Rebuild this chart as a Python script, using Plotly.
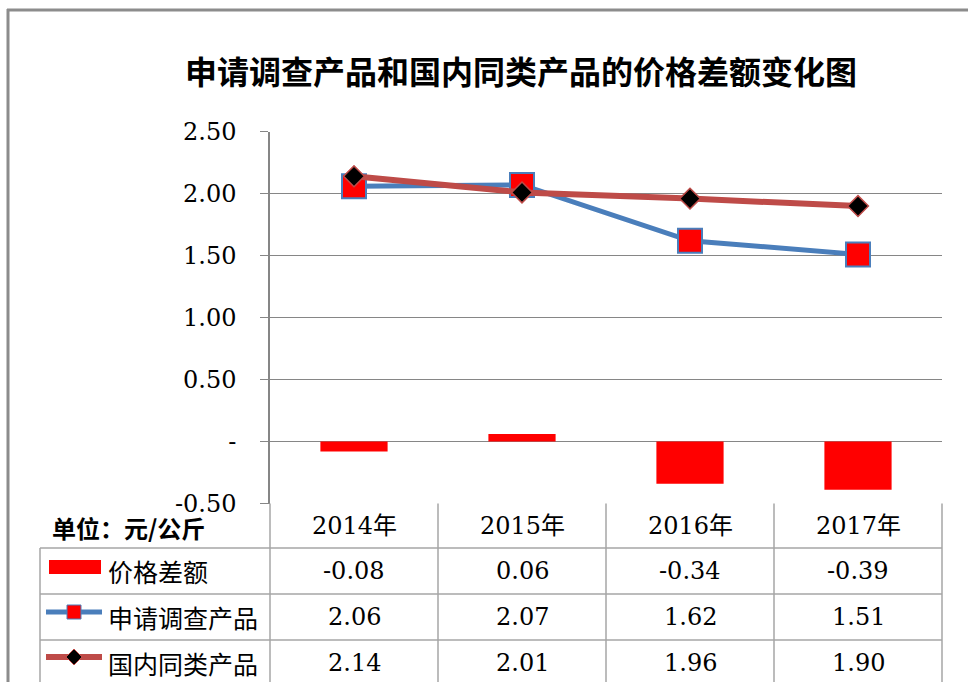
import plotly.graph_objects as go

# ---------------- data ----------------
categories = ["2014年", "2015年", "2016年", "2017年"]
price_gap = [-0.08, 0.06, -0.34, -0.39]
investigated = [2.06, 2.07, 1.62, 1.51]
domestic = [2.14, 2.01, 1.96, 1.90]
series_names = ["价格差额", "申请调查产品", "国内同类产品"]
y_tickvals = [-0.5, 0.0, 0.5, 1.0, 1.5, 2.0, 2.5]
y_ticktext = ["-0.50", "-", "0.50", "1.00", "1.50", "2.00", "2.50"]
title_text = "申请调查产品和国内同类产品的价格差额变化图"
unit_text = "单位：元/公斤"

# ---------------- layout helpers ----------------
W, H = 968, 682
def px(x):
    return x / W
def py(y):
    return 1 - y / H

BLUE = "#4A7EBB"
RED_LINE = "#BE4B48"
BAR_RED = "#FF0000"
GRID = "#868686"
TBL = "#A6A6A6"
NUM_FONT = "DejaVu Serif, Noto Sans CJK SC"
CJK_FONT = "Noto Sans CJK SC"

plot_left, plot_right = 270, 942
plot_top, plot_bottom = 131.7, 503.5

fig = go.Figure()

fig.add_trace(go.Bar(
    x=categories, y=price_gap, name=series_names[0],
    marker=dict(color=BAR_RED, line=dict(width=0)), width=0.4,
))
fig.add_trace(go.Scatter(
    x=categories, y=investigated, name=series_names[1], mode="lines+markers",
    line=dict(color=BLUE, width=5),
    marker=dict(symbol="square", size=24, color=BAR_RED, line=dict(color=BLUE, width=2)),
))
fig.add_trace(go.Scatter(
    x=categories, y=domestic, name=series_names[2], mode="lines+markers",
    line=dict(color=RED_LINE, width=6),
    marker=dict(symbol="diamond", size=16, color="#000000", line=dict(color=RED_LINE, width=1.5)),
))

shapes = []
def hline(y, x0, x1, color=TBL, w=1.5):
    shapes.append(dict(type="line", xref="paper", yref="paper",
                       x0=px(x0), x1=px(x1), y0=py(y), y1=py(y),
                       line=dict(color=color, width=w)))
def vline(x, y0, y1, color=TBL, w=1.5):
    shapes.append(dict(type="line", xref="paper", yref="paper",
                       x0=px(x), x1=px(x), y0=py(y0), y1=py(y1),
                       line=dict(color=color, width=w)))

# outer chart border
hline(10, 7, 968, color="#8C8C8C", w=3)
vline(8, 9, 682, color="#8C8C8C", w=3)

# data table grid
col_edges = [270, 438, 606, 774, 942]
row_edges = [548, 594, 640, 686]
for y in row_edges[:-1]:
    hline(y, 40, 942)
vline(40, 548, 682)
for x in col_edges:
    vline(x, 503.5, 682)

# legend keys inside table
shapes.append(dict(type="rect", xref="paper", yref="paper",
                   x0=px(49), x1=px(101), y0=py(560), y1=py(574),
                   fillcolor=BAR_RED, line=dict(width=0)))
hline(612, 46, 102, color=BLUE, w=5)
shapes.append(dict(type="rect", xref="paper", yref="paper",
                   x0=px(67), x1=px(81), y0=py(605), y1=py(619),
                   fillcolor=BAR_RED, line=dict(color=BLUE, width=1)))
hline(657, 46, 102, color=RED_LINE, w=6)
cx, cy, r = 74, 657, 8
path = "M {},{} L {},{} L {},{} L {},{} Z".format(
    px(cx), py(cy - r), px(cx + r), py(cy), px(cx), py(cy + r), px(cx - r), py(cy))
shapes.append(dict(type="path", xref="paper", yref="paper", path=path,
                   fillcolor="#000000", line=dict(color=RED_LINE, width=1)))

annotations = []
def text(x, y, s, size, family, anchor="center", bold=False):
    annotations.append(dict(x=px(x), y=py(y), xref="paper", yref="paper",
                            text=s, showarrow=False, xanchor=anchor, yanchor="middle",
                            font=dict(size=size, family=family, color="#000000",
                                      weight="bold" if bold else "normal")))

# title
text(521, 70, title_text, 32, CJK_FONT, bold=True)
# unit
text(50, 527, unit_text, 24, CJK_FONT, anchor="left", bold=True)

col_centers = [(col_edges[i] + col_edges[i + 1]) / 2 for i in range(4)]
for c, cat in zip(col_centers, categories):
    text(c, 526, cat, 24, NUM_FONT)

row_centers = [(row_edges[i] + row_edges[i + 1]) / 2 for i in range(3)]
for rc, name, vals in zip(row_centers, series_names, [price_gap, investigated, domestic]):
    text(106, rc, name, 25, CJK_FONT, anchor="left")
    for c, v in zip(col_centers, vals):
        text(c, rc, f"{v:.2f}", 24, NUM_FONT)

fig.update_layout(
    width=W, height=H,
    margin=dict(l=0, r=0, t=0, b=0, pad=0, autoexpand=False),
    paper_bgcolor="white", plot_bgcolor="white",
    showlegend=False,
    bargap=0.6,
    shapes=shapes,
    annotations=annotations,
    xaxis=dict(domain=[px(plot_left), px(plot_right)], visible=False,
               automargin=False, type="category", range=[-0.5, 3.5]),
    yaxis=dict(domain=[py(plot_bottom), py(plot_top)], range=[-0.5, 2.5],
               automargin=False,
               tickvals=y_tickvals, ticktext=y_ticktext,
               showgrid=True, gridcolor=GRID, gridwidth=1,
               zeroline=False,
               showline=True, linecolor=GRID, linewidth=1.5,
               ticks="outside", ticklen=8, tickcolor=GRID, tickwidth=1,
               ticklabelstandoff=19,
               tickfont=dict(family=NUM_FONT, size=24, color="#000000")),
)

fig.write_html("out.html",
               config=dict(displayModeBar=False),
               post_script="document.body.style.margin='0px';document.body.style.overflow='hidden';")
